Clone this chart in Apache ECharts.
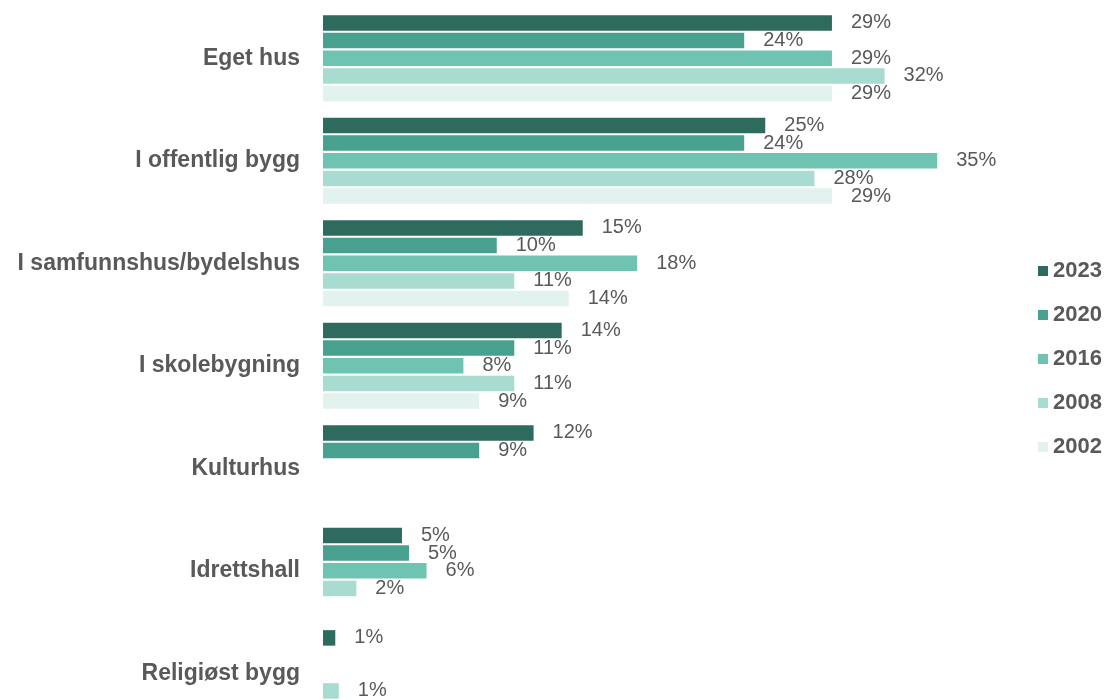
<!DOCTYPE html>
<html>
<head>
<meta charset="utf-8">
<script src="https://cdn.jsdelivr.net/npm/echarts@6/dist/echarts.min.js"></script>
<style>
html,body{margin:0;padding:0;background:#fff;overflow:hidden;}
#chart{width:1109px;height:730px;}
</style>
</head>
<body>
<div id="chart"></div>
<script>
var categories = ["Eget hus", "I offentlig bygg", "I samfunnshus/bydelshus", "I skolebygning", "Kulturhus", "Idrettshall", "Religiøst bygg"];
var seriesNames = ["2023", "2020", "2016", "2008", "2002"];
var values2023 = [29.0, 25.2, 14.8, 13.6, 12.0, 4.5, 0.7];
var values2020 = [24.0, 24.0, 9.9, 10.9, 8.9, 4.9, null];
var values2016 = [29.0, 35.0, 17.9, 8.0, null, 5.9, null];
var values2008 = [32.0, 28.0, 10.9, 10.9, null, 1.9, 0.9];
var values2002 = [29.0, 29.0, 14.0, 8.9, null, null, null];
var colors = ["#2E6B5E", "#47A18E", "#6FC3B1", "#A8DCD1", "#E2F2EE"];

var allValues = [values2023, values2020, values2016, values2008, values2002];
var FONT = "'Liberation Sans', Arial, sans-serif";

var series = seriesNames.map(function (name, i) {
  return {
    name: name,
    type: 'bar',
    data: allValues[i],
    barWidth: 15.5,
    barGap: '14%',
    itemStyle: { color: colors[i] },
    label: {
      show: true,
      position: 'right',
      distance: 19,
      color: '#595959',
      fontFamily: FONT,
      fontSize: 20,
      formatter: function (p) {
        if (p.value == null) return '';
        return Math.round(p.value) + '%';
      }
    },
    animation: false
  };
});

var chart = echarts.init(document.getElementById('chart'), null, { renderer: 'canvas' });
chart.setOption({
  backgroundColor: '#ffffff',
  animation: false,
  textStyle: { fontFamily: FONT },
  grid: { left: 323, top: 7, width: 702, height: 717.5, containLabel: false },
  xAxis: {
    type: 'value',
    min: 0,
    max: 40,
    show: false
  },
  yAxis: {
    type: 'category',
    data: categories,
    inverse: true,
    axisLine: { show: false },
    axisTick: { show: false },
    splitLine: { show: false },
    axisLabel: {
      margin: 23,
      color: '#595959',
      fontFamily: FONT,
      fontWeight: 'bold',
      fontSize: 23
    }
  },
  legend: {
    orient: 'vertical',
    left: 1033,
    top: 255,
    itemWidth: 10,
    itemHeight: 10,
    itemGap: 22,
    itemTextGap: 6,
    itemStyle: { borderWidth: 0 },
    icon: 'rect',
    textStyle: {
      color: '#595959',
      fontFamily: FONT,
      fontWeight: 'bold',
      fontSize: 22,
      lineHeight: 22
    },
    data: seriesNames
  },
  series: series
});
</script>
</body>
</html>
